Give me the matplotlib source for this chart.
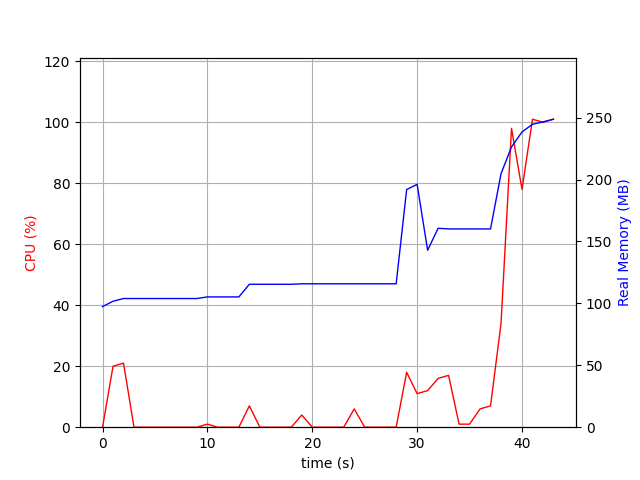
import matplotlib
matplotlib.use("Agg")
import matplotlib.pyplot as plt

# sampled once per second
time_s = list(range(44))
cpu_pct = [0, 20, 21, 0, 0, 0, 0, 0, 0, 0,
           1, 0, 0, 0, 7, 0, 0, 0, 0, 4,
           0, 0, 0, 0, 6, 0, 0, 0, 0, 18,
           11, 12, 16, 17, 1, 1, 6, 7, 34, 98,
           78, 101, 100, 101]
mem_mb = [97.4, 101.7, 103.9, 103.9, 103.9, 103.9, 103.9, 103.9, 103.9, 103.9,
          105.2, 105.2, 105.2, 105.2, 115.4, 115.4, 115.4, 115.4, 115.4, 115.8,
          115.8, 115.8, 115.8, 115.8, 115.8, 115.8, 115.8, 115.8, 115.8, 191.9,
          196.1, 142.9, 160.6, 160.1, 160.1, 160.1, 160.1, 160.1, 204.7, 226.3,
          238.4, 244.6, 246.5, 248.7]


def main():
    fig, ax1 = plt.subplots(figsize=(6.4, 4.8), dpi=100)

    ax1.plot(time_s, cpu_pct, color="red", lw=1)
    ax1.set_xlabel("time (s)")
    ax1.set_ylabel("CPU (%)", color="red")
    ax1.set_ylim(0, max(cpu_pct) * 1.2)
    ax1.grid(True)

    ax2 = ax1.twinx()
    ax2.plot(time_s, mem_mb, color="blue", lw=1)
    ax2.set_ylabel("Real Memory (MB)", color="blue")
    ax2.set_ylim(0, max(mem_mb) * 1.2)

    fig.savefig("out.png")


if __name__ == "__main__":
    main()
